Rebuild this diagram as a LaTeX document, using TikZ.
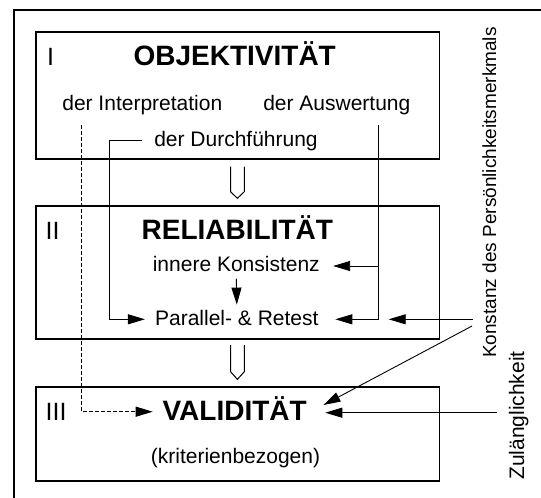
\documentclass[tikz,border=0pt]{standalone}
\usepackage{fontspec}
\setmainfont{Liberation Sans}
\usetikzlibrary{arrows.meta}
\begin{document}
\begin{tikzpicture}[x=1pt,y=-1pt,
  box/.style={draw, line width=1.5pt, inner sep=0pt, anchor=north west},
  reg/.style={font=\fontsize{21}{25}\selectfont, inner sep=0pt, anchor=base},
  side/.style={font=\fontsize{19}{23}\selectfont, inner sep=0pt, rotate=90, anchor=base west},
  num/.style={font=\fontsize{25}{30}\selectfont, inner sep=0pt, anchor=base west},
  ttl/.style={font=\fontsize{28}{33}\selectfont\bfseries, inner sep=0pt, anchor=base},
  conn/.style={line width=0.9pt},
  arr/.style={conn, -{Triangle[length=17pt,width=10pt]}},
  dsh/.style={line width=1pt, dash pattern=on 4pt off 2pt},
  hollow/.style={line width=1pt, line join=miter}]
\useasboundingbox (0,0) rectangle (541,498);
% outer frame
\draw[line width=1.6pt] (13.8,498) -- (13.8,10) -- (541,10);
% boxes
\node[box, minimum width=403.7pt, minimum height=127.3pt] (b1) at (35.2,31) {};
\node[box, minimum width=403.7pt, minimum height=133.3pt] (b2) at (35.2,205) {};
\node[box, minimum width=403.7pt, minimum height=94pt] (b3) at (35.2,386) {};
% hollow arrows
\draw[hollow] (230.5,166.7) -- (230.5,191.7) -- (237.4,198.3) -- (244.3,191.7) -- (244.3,166.7);
\draw[hollow] (230.5,345) -- (230.5,371.7) -- (237.4,379.3) -- (244.3,371.7) -- (244.3,345);
% texts
\node[num] (n1) at (47,65) {I};
\node[ttl] (obj) at (234.7,65) {OBJEKTIVITÄT};
\node[reg] (interp) at (142.3,110) {der Interpretation};
\node[reg] (ausw) at (336.8,110) {der Auswertung};
\node[reg] (durch) at (236,146.7) {der Durchführung};
\node[num] (n2) at (45.5,239.3) {II};
\node[ttl] (rel) at (237.3,239.3) {RELIABILITÄT};
\node[reg] (inn) at (236.3,271.7) {innere Konsistenz};
\node[reg] (par) at (236.8,325) {Parallel- \& Retest};
\node[num] (n3) at (45.5,420) {III};
\node[ttl] (val) at (234.7,420) {VALIDITÄT};
\node[reg] (krit) at (235.5,463.3) {(kriterienbezogen)};
\node[side] (konst) at (496,358) {Konstanz des Persönlichkeitsmerkmals};
\node[side, font=\fontsize{21}{25}\selectfont] (zul) at (524,480) {Zulänglichkeit};
% helper coordinates
\path ([yshift=5.7pt]inn.base east) coordinate (innE)
      ([yshift=5.7pt]par.base east) coordinate (parE)
      ([yshift=5.7pt]par.base west) coordinate (parW)
      ([yshift=8.3pt]val.base west) coordinate (valW)
      ([xshift=18.3pt,yshift=7.3pt]val.base east) coordinate (valE)
      ([xshift=19.8pt,yshift=-15pt]interp.base west) coordinate (dw)
      ([xshift=-31.7pt,yshift=-15pt]ausw.base east) coordinate (aw)
      ([xshift=-12.1pt,yshift=6.7pt]durch.base west) coordinate (dd);
\path (konst.north |- parE) coordinate (kp);
\path (zul.north |- valE) coordinate (zp);
% connectors
\draw[arr] (dd) -- ++(-32.5,0) |- ([xshift=-10pt]parW);
\draw[arr, dsh] (dw) |- ([xshift=-9.7pt]valW);
\draw[arr] (aw) |- ([xshift=16.6pt]parE);
\draw[arr] (aw |- innE) -- ([xshift=13.2pt]innE);
\draw[arr] ([yshift=-6.6pt]inn.south) -- ([yshift=5pt]par.north);
\draw[arr] ([xshift=-9.2pt]kp) -- ([xshift=70pt]parE);
\draw[arr] ([xshift=-10pt,yshift=-6.7pt]kp) -- ([xshift=16.5pt,yshift=15pt]val.base east);
\draw[arr] ([xshift=-11.8pt]zp) -- (valE);
\end{tikzpicture}
\end{document}
